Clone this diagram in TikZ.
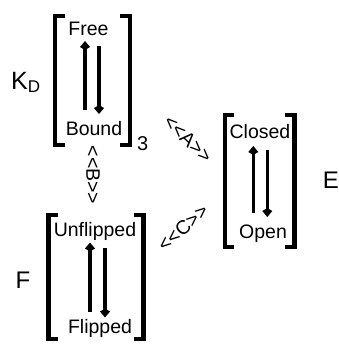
\documentclass[tikz,border=0pt]{standalone}
\usepackage{fontspec}
\setmainfont{Liberation Sans}
\usetikzlibrary{arrows.meta}
\newcommand{\lt}{<\kern0pt}
\newcommand{\gt}{>\kern0pt}
\begin{document}
\begin{tikzpicture}[x=1pt,y=-1pt,
  bracket/.style={line width=4.5pt,line join=miter},
  state/.style={inner sep=0pt,anchor=base,font=\fontsize{19.5}{22}\selectfont},
  biglabel/.style={inner sep=0pt,anchor=base,font=\fontsize{24}{28}\selectfont},
  rate/.style={line width=3.6pt,-{Kite[length=9pt,width=10pt,inset=3pt]}},
  eq/.style={inner sep=0pt,font=\fontsize{19.5}{22}\selectfont}]
\useasboundingbox (0,0) rectangle (339,346);
% box KD
\draw[bracket] (65,16) -- (55,16) -- (55,145) -- (65,145);
\draw[bracket] (120,16) -- (130,16) -- (130,145) -- (120,145);
\node[state] (free) at (88.5,35.3) {Free};
\node[state] (bound) at (94,135) {Bound};
\node[inner sep=0pt,anchor=base west,font=\fontsize{20}{22}\selectfont] (three) at (137,150) {3};
\coordinate (u1a) at (85,110); \coordinate (u1b) at (85,41);
\coordinate (d1a) at (99,46); \coordinate (d1b) at (99,114);
\draw[rate] (u1a) -- (u1b);
\draw[rate] (d1a) -- (d1b);
\node[inner sep=0pt,anchor=base west,font=\fontsize{25}{28}\selectfont] (kd) at (11,89) {K\raisebox{-3pt}{\fontsize{17}{18}\selectfont D}};
% box E
\draw[bracket] (234,115) -- (225,115) -- (225,247) -- (234,247);
\draw[bracket] (285,115) -- (294.5,115) -- (294.5,247) -- (285,247);
\node[state] (closed) at (260,138.3) {Closed};
\node[state] (open) at (263,238) {Open};
\coordinate (u2a) at (253.3,213); \coordinate (u2b) at (253.3,146);
\coordinate (d2a) at (267.3,150); \coordinate (d2b) at (267.3,217);
\draw[rate] (u2a) -- (u2b);
\draw[rate] (d2a) -- (d2b);
\node[biglabel] (e) at (331,188.3) {E};
% box F
\draw[bracket] (58,215) -- (48.5,215) -- (48.5,339) -- (58,339);
\draw[bracket] (134,215) -- (143.7,215) -- (143.7,339) -- (134,339);
\node[state] (unflipped) at (95,236.7) {Unflipped};
\node[state] (flipped) at (100,333) {Flipped};
\coordinate (u3a) at (90,311.7); \coordinate (u3b) at (90,242.5);
\coordinate (d3a) at (105,248); \coordinate (d3b) at (105,317.5);
\draw[rate] (u3a) -- (u3b);
\draw[rate] (d3a) -- (d3b);
\node[biglabel] (f) at (23,288.3) {F};
% equilibria labels
\node[eq,rotate=-44] (A) at (188,139) {\lt\lt A\gt\gt};
\node[eq,rotate=-90] (B) at (93,175) {\lt\lt B\gt\gt};
\node[eq,rotate=41] (C) at (183,228) {\lt\lt C\gt\gt};
\end{tikzpicture}
\end{document}
